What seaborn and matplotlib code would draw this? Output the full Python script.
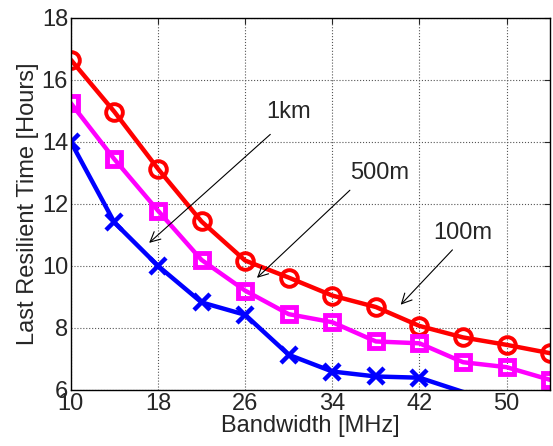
import numpy as np
import pandas as pd
import matplotlib
matplotlib.use('Agg')
import matplotlib.pyplot as plt
import seaborn as sns

# Bandwidth values (MHz) and last resilient time (hours) per distance
bandwidth = [10, 14, 18, 22, 26, 30, 34, 38, 42, 46, 50, 54]
time_100m = [16.65, 14.97, 13.13, 11.43, 10.17, 9.62, 9.04, 8.67, 8.06, 7.69, 7.45, 7.18]
time_500m = [15.25, 13.44, 11.78, 10.19, 9.20, 8.44, 8.18, 7.56, 7.50, 6.89, 6.73, 6.32]
time_1km = [14.0, 11.4, 10.0, 8.82, 8.42, 7.13, 6.59, 6.43, 6.39, 5.93]

sns.set_style('white')
plt.rcParams['font.family'] = ['Liberation Sans', 'DejaVu Sans']
plt.rcParams['font.size'] = 17

fig = plt.figure(figsize=(5.53, 4.46), dpi=100)
ax = fig.add_axes([0.128, 0.126, 0.867, 0.834])

sns.lineplot(x=bandwidth, y=time_100m, ax=ax, color='red', marker='o', lw=3.2,
             ms=12, mfc='none', mec='red', mew=2.8)
sns.lineplot(x=bandwidth, y=time_500m, ax=ax, color='magenta', marker='s', lw=3.2,
             ms=10, mfc='none', mec='magenta', mew=3.5)
# markers outside the y range are not drawn (like the original)
visible = [i for i, v in enumerate(time_1km) if v >= 6]
sns.lineplot(x=bandwidth[:len(time_1km)], y=time_1km, ax=ax, color='blue', marker='x',
             lw=3.2, ms=11, mec='blue', mew=3.2, markevery=visible)

arrow = dict(arrowstyle='->', color='black', lw=0.8, mutation_scale=18)
ax.annotate('', xy=(17.0, 10.68), xytext=(28.5, 14.3), arrowprops=arrow)
ax.text(30.0, 14.97, '1km', ha='center', va='center', fontsize=17)
ax.annotate('', xy=(26.9, 9.55), xytext=(35.8, 12.5), arrowprops=arrow)
ax.text(38.3, 13.0, '500m', ha='center', va='center', fontsize=17)
ax.annotate('', xy=(40.1, 8.68), xytext=(45.2, 10.58), arrowprops=arrow)
ax.text(46.0, 11.06, '100m', ha='center', va='center', fontsize=17)

ax.set_xlim(10, 54)
ax.set_ylim(6, 18)
ax.set_xticks([10, 18, 26, 34, 42, 50])
ax.set_yticks([6, 8, 10, 12, 14, 16, 18])
ax.grid(True, linestyle=':', color='#555555', lw=0.8)
ax.tick_params(direction='in', top=True, right=True, length=4, labelsize=17, pad=2)
for s in ax.spines.values():
    s.set_color('black')
    s.set_linewidth(1.0)
ax.set_xlabel('Bandwidth [MHz]', fontsize=17, labelpad=0)
ax.set_ylabel('Last Resilient Time [Hours]', fontsize=17, labelpad=2)

fig.savefig('out.png', dpi=100)
